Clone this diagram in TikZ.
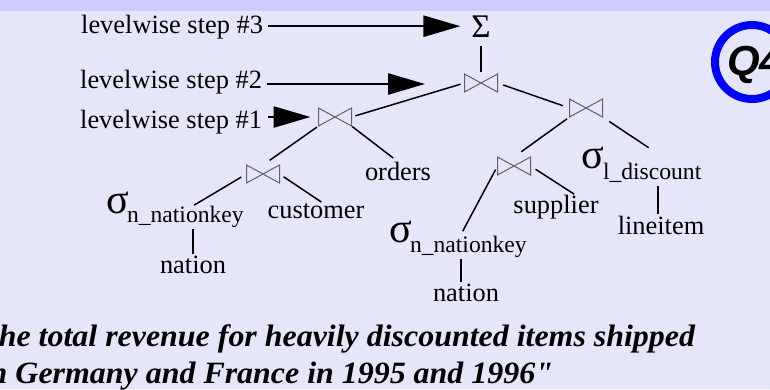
\documentclass[tikz,border=0pt]{standalone}
\usepackage{fontspec}
\setmainfont{Liberation Serif}
\newfontfamily\qfont{Liberation Sans}
\newfontfamily\quotefont[FakeStretch=1.03,Ligatures=TeXOff]{Liberation Serif}
\usetikzlibrary{arrows.meta,calc}
\definecolor{bgcol}{RGB}{230,230,250}
\definecolor{bandcol}{RGB}{204,204,255}
\definecolor{ringblue}{RGB}{0,0,255}
\tikzset{
  lbl/.style={inner sep=0pt, outer sep=0pt, font=\fontsize{26.4}{30}\selectfont},
  sig/.style={inner sep=0pt, outer sep=0pt, font=\fontsize{42}{44}\selectfont},
  sub/.style={inner sep=0pt, outer sep=0pt, font=\fontsize{23.6}{26}\selectfont},
  joinop/.style={minimum width=33pt, minimum height=18pt, inner sep=0pt, outer sep=0pt},
  bowtie/.style={draw=black!62, line width=1pt, line join=miter},
  edge/.style={line width=1.5pt},
  vedge/.style={line width=2.2pt},
  steparrow/.style={line width=2.6pt, -{Triangle[length=37pt,width=21pt]}},
  quote/.style={inner sep=0pt, outer sep=0pt, font=\quotefont\fontsize{31}{37}\selectfont\bfseries\itshape},
}
\begin{document}
\begin{tikzpicture}[x=1pt,y=-1pt]
\useasboundingbox (0,0) rectangle (770,389);
\clip (0,0) rectangle (770,389);
\fill[bgcol] (0,0) rectangle (770,389);
\fill[bandcol] (0,0) rectangle (770,10.5);

% step labels
\node[lbl, anchor=base east] (lab3) at (263,33) {levelwise step \#3};
\node[lbl, anchor=base east] (lab2) at (262,88) {levelwise step \#2};
\node[lbl, anchor=base east] (lab1) at (262,128) {levelwise step \#1};

% aggregation
\node[lbl, anchor=base, font=\fontsize{33}{36}\selectfont] (sigma) at (481,37) {Σ};

% selections
\node[sig, anchor=base west] (sL) at (106,213) {σ};
\node[sub, anchor=base west] (sLs) at (127,222) {n\_nationkey};
\node[sig, anchor=base west] (sR) at (389,242) {σ};
\node[sub, anchor=base west] (sRs) at (410,252) {n\_nationkey};
\node[sig, anchor=base west] (sD) at (581,168) {σ};
\node[sub, anchor=base west] (sDs) at (603,179) {l\_discount};

% relations
\node[lbl, anchor=base] (orders) at (398,180) {orders};
\node[lbl, anchor=base] (customer) at (316,218) {customer};
\node[lbl, anchor=base] (nationL) at (193,273) {nation};
\node[lbl, anchor=base] (nationR) at (466,301) {nation};
\node[lbl, anchor=base] (supplier) at (556,213) {supplier};
\node[lbl, anchor=base] (lineitem) at (661,234) {lineitem};

% joins
\node[joinop] (j3) at (481,83) {};
\node[joinop] (j1) at (335,117) {};
\node[joinop] (j2) at (586,108) {};
\node[joinop] (j0) at (263,174) {};
\node[joinop] (j4) at (514,166) {};
\foreach \j in {j0,j1,j2,j3,j4}
  \draw[bowtie] (\j.north west) -- (\j.south west) -- (\j.north east) -- (\j.south east) -- cycle;

% tree edges
\draw[vedge, shorten <=9pt, shorten >=2pt] (sigma.south) -- (j3.north);
\draw[edge, shorten <=4pt, shorten >=4pt] (j3.west) -- (j1.east);
\draw[edge, shorten <=6pt, shorten >=7pt] (j3.east) -- (j2.west);
\draw[edge, shorten <=2pt, shorten >=8pt] (j1.south west) -- (j0.north);
\draw[edge, shorten <=1pt, shorten >=6pt] (j1.south east) -- (orders.north);
\draw[edge, shorten <=6pt, shorten >=1pt] (j0.west) -- ([xshift=8pt]sLs.north);
\draw[edge, shorten <=5pt, shorten >=2pt] (j0.east) -- ([xshift=7pt]customer.north);
\draw[edge, shorten <=3pt, shorten >=9pt] (j2.south west) -- (j4.north);
\draw[edge, shorten <=8pt, shorten >=27pt] (j2.south east) -- ([xshift=19pt]sDs.north);
\draw[edge, shorten <=4pt, shorten >=5pt] (j4.west) -- ([xshift=-8pt]sRs.north);
\draw[edge, shorten <=6pt, shorten >=1pt] (j4.east) -- ([xshift=19pt]supplier.north);
\draw[vedge, shorten <=2pt, shorten >=2pt] (sLs.south -| nationL.north) -- (nationL.north);
\draw[vedge, shorten <=2pt, shorten >=2pt] ($(sRs.south -| nationR.north)+(-5,0)$) -- ($(nationR.north)+(-5,0)$);
\draw[vedge, shorten <=4pt, shorten >=2pt] ($(sDs.south -| lineitem.north)+(-3,0)$) -- ($(lineitem.north)+(-3,0)$);

% step arrows
\coordinate (s2tip) at (425,84);
\draw[steparrow, shorten <=5pt, shorten >=11pt] (lab3.east |- sigma.west) -- (sigma.west);
\draw[steparrow, shorten <=5pt] (lab2.east |- s2tip) -- (s2tip);
\draw[steparrow, shorten <=6pt, shorten >=8pt] (lab1.east |- j1.west) -- (j1.west);

% Q4 badge
\node[circle, draw=ringblue, line width=8pt, minimum size=74pt, inner sep=0pt] (ring) at (752,62) {};
\node[inner sep=0pt, anchor=base west, font=\qfont\bfseries\itshape\fontsize{42}{44}\selectfont] (q4) at (727,75) {Q4};

% query text
\node[quote, anchor=base east] (t1) at (695,346) {the total revenue for heavily discounted items shipped};
\node[quote, anchor=base east] (t2) at (553,383) {in Germany and France in 1995 and 1996"};
\end{tikzpicture}
\end{document}
